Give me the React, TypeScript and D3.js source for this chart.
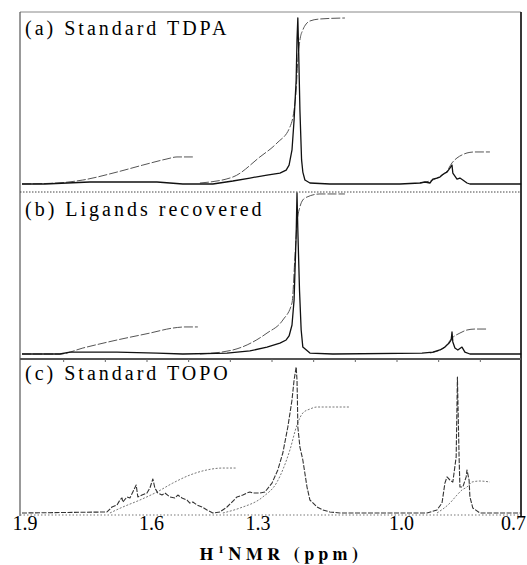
import React from "react";
import * as d3 from "d3";

// ---- data (ppm, relative intensity 0-100) ----
const tickValues = [1.9, 1.6, 1.3, 1.0, 0.7];
const tickLabels = ["1.9", "1.6", "1.3", "1.0", "0.7"];
const minorTicks = [1.8, 1.7, 1.6, 1.5, 1.4, 1.3, 1.2, 1.1, 1.0, 0.9, 0.8];
const panelTitles = ["(a) Standard TDPA", "(b) Ligands recovered", "(c) Standard TOPO"];

const specA: [number, number][] = [
  [1.9, 0], [1.845, 0], [1.792, 0.6], [1.737, 1.2], [1.672, 1.2], [1.617, 1.2], [1.576, 1.2],
  [1.545, 0.6], [1.514, 0], [1.442, 0], [1.394, 1.8], [1.353, 3.6], [1.312, 5.4], [1.281, 6.6],
  [1.266, 8.4], [1.259, 11.4], [1.252, 20.5], [1.247, 38.6], [1.242, 62.7], [1.24, 86.7],
  [1.238, 100], [1.236, 80], [1.233, 44.6], [1.229, 14.5], [1.226, 7.2], [1.221, 2.4],
  [1.209, 0.6], [1.161, 0], [0.993, 0], [0.945, 0.6], [0.933, 1.2], [0.921, 0.6], [0.914, 3],
  [0.904, 3.6], [0.897, 4.2], [0.892, 5.4], [0.885, 6.6], [0.88, 7.2], [0.873, 9.6], [0.868, 11.4],
  [0.866, 6.6], [0.861, 4.8], [0.856, 3.0], [0.849, 3.6], [0.842, 2.4], [0.832, 0.6], [0.825, 0],
  [0.702, 0],
];
const intA: [number, number][][] = [
  [[1.9, 0], [1.816, 0.6], [1.754, 2.4], [1.672, 7.2], [1.61, 11.4], [1.552, 15.1], [1.528, 16.3], [1.49, 16.3]],
  [[1.473, 0.6], [1.394, 4.2], [1.329, 16.3], [1.288, 24.7], [1.257, 34.3], [1.247, 44.6], [1.242, 56.6],
   [1.238, 74.7], [1.233, 86.7], [1.226, 92.8], [1.218, 96.4], [1.209, 98.2], [1.185, 99.4], [1.125, 100]],
  [[0.945, 0.6], [0.904, 3.6], [0.88, 7.8], [0.868, 12.7], [0.856, 15.7], [0.844, 17.5], [0.832, 18.7],
   [0.813, 19.3], [0.777, 19.3]],
];

const specB: [number, number][] = [
  [1.9, 0], [1.809, 0], [1.785, 1.2], [1.672, 1.2], [1.576, 0.6], [1.514, 0], [1.408, 0.6],
  [1.353, 1.9], [1.312, 4.3], [1.281, 6.8], [1.266, 8.7], [1.259, 11.2], [1.252, 18.0],
  [1.247, 33.5], [1.245, 50.3], [1.242, 73.9], [1.24, 100], [1.238, 77.0], [1.234, 39.8],
  [1.23, 14.9], [1.226, 4.3], [1.209, 0.6], [1.154, 0], [0.94, 0.6], [0.914, 1.2], [0.897, 2.5],
  [0.885, 4.3], [0.875, 6.8], [0.87, 8.7], [0.868, 13.7], [0.866, 7.5], [0.861, 3.7], [0.854, 2.5],
  [0.844, 4.3], [0.837, 1.2], [0.825, 0], [0.702, 0],
];
const intB: [number, number][][] = [
  [[1.9, 0], [1.809, 0], [1.754, 3.7], [1.672, 8.7], [1.593, 13.0], [1.538, 16.1], [1.509, 16.8], [1.478, 16.8]],
  [[1.473, 0], [1.394, 2.5], [1.312, 13.0], [1.274, 21.1], [1.252, 31.7], [1.245, 60.2], [1.24, 81.4],
   [1.233, 91.3], [1.226, 95.7], [1.216, 97.5], [1.185, 99.4], [1.125, 99.4]],
  [[0.921, 0.6], [0.885, 4.3], [0.868, 9.9], [0.849, 13.0], [0.832, 14.9], [0.813, 15.5], [0.782, 15.5]],
];

const specC: [number, number][] = [
  [1.9, 0], [1.696, 0.7], [1.684, 4.1], [1.672, 5.5], [1.665, 8.9], [1.66, 10.3], [1.658, 7.5],
  [1.648, 11.0], [1.641, 10.3], [1.634, 14.4], [1.626, 19.2], [1.622, 11.0], [1.612, 12.3],
  [1.6, 13.7], [1.593, 17.1], [1.586, 23.3], [1.581, 17.1], [1.574, 13.7], [1.564, 12.3],
  [1.557, 13.7], [1.545, 11.0], [1.533, 10.3], [1.526, 12.3], [1.516, 10.3], [1.504, 8.9],
  [1.497, 6.8], [1.49, 7.5], [1.48, 5.5], [1.468, 4.1], [1.456, 2.1], [1.442, 0], [1.425, 0.7],
  [1.408, 4.1], [1.396, 7.5], [1.384, 11.0], [1.37, 12.3], [1.36, 13.7], [1.353, 14.4],
  [1.346, 13.7], [1.329, 13.7], [1.317, 14.4], [1.3, 20.5], [1.286, 29.5], [1.274, 41.1],
  [1.262, 58.9], [1.252, 77.4], [1.247, 91.1], [1.242, 100], [1.24, 91.1], [1.239, 77.4],
  [1.238, 58.9], [1.233, 45.2], [1.226, 36.3], [1.216, 17.8], [1.209, 8.9], [1.192, 4.1],
  [1.178, 2.1], [1.161, 0.7], [1.137, 0], [0.928, 0], [0.904, 2.1], [0.892, 6.8], [0.885, 20.5],
  [0.88, 24.7], [0.873, 22.6], [0.866, 21.2], [0.858, 38.4], [0.855, 93.2], [0.851, 38.4],
  [0.849, 17.8], [0.842, 17.8], [0.834, 24.7], [0.832, 29.5], [0.827, 22.6], [0.825, 11.0],
  [0.818, 3.4], [0.801, 0], [0.702, 0],
];
const intC: [number, number][][] = [
  [[1.689, 0], [1.658, 4.1], [1.617, 8.9], [1.576, 14.4], [1.538, 20.5], [1.497, 26.0], [1.456, 29.5],
   [1.418, 30.8], [1.384, 30.8]],
  [[1.418, 0], [1.377, 3.4], [1.322, 11.0], [1.288, 21.2], [1.257, 43.2], [1.24, 60.3], [1.226, 68.5],
   [1.209, 71.2], [1.192, 72.6], [1.113, 72.6]],
  [[0.904, 0], [0.873, 6.8], [0.856, 12.3], [0.844, 15.8], [0.832, 17.8], [0.82, 21.2], [0.801, 21.9],
   [0.777, 21.2]],
];

export default function App() {
  const W = 527, H = 565;
  const x = d3.scaleLinear().domain([1.9, 0.7]).range([22, 522]);
  const panels = [
    { title: panelTitles[0], spec: specA, ints: intA, y: d3.scaleLinear().domain([0, 100]).range([184, 18]), ty: 35,
      specStyle: { stroke: "#111", width: 1.3, dash: "none" }, intStyle: { stroke: "#555", width: 1, dash: "9,2" } },
    { title: panelTitles[1], spec: specB, ints: intB, y: d3.scaleLinear().domain([0, 100]).range([354, 193]), ty: 216,
      specStyle: { stroke: "#111", width: 1.3, dash: "none" }, intStyle: { stroke: "#555", width: 1, dash: "9,2" } },
    { title: panelTitles[2], spec: specC, ints: intC, y: d3.scaleLinear().domain([0, 100]).range([513, 367]), ty: 380,
      specStyle: { stroke: "#333", width: 1.1, dash: "5,1.5" }, intStyle: { stroke: "#777", width: 1, dash: "2,1.6" } },
  ];
  const labelNudge = [3, 4.5, -14, 4.5, -8.5];

  return (
    <svg width={W} height={H} style={{ position: "absolute", left: 0, top: 0 }}>
      <rect x={0} y={0} width={W} height={H} fill="#fff" />
      {/* frame */}
      <line x1={20} x2={521} y1={12} y2={12} stroke="#888" strokeWidth={1} />
      <line x1={20} x2={20} y1={12} y2={516} stroke="#555" strokeWidth={1.2} />
      <line x1={521} x2={521} y1={12} y2={517} stroke="#222" strokeWidth={1.8} />
      <line x1={20} x2={521} y1={192} y2={192} stroke="#444" strokeWidth={1} strokeDasharray="1.5,1.5" />
      <line x1={20} x2={521} y1={359} y2={359} stroke="#555" strokeWidth={2.2} />
      {minorTicks.map((t) => (
        <line key={"mt" + t} x1={x(t)} x2={x(t)} y1={359} y2={362} stroke="#666" strokeWidth={1} />
      ))}
      <line x1={20} x2={521} y1={515} y2={515} stroke="#777" strokeWidth={1} strokeDasharray="1.5,2" />

      {panels.map((p, i) => {
        const line = d3.line<[number, number]>().x((d) => x(d[0])).y((d) => p.y(d[1]));
        const smooth = d3.line<[number, number]>().x((d) => x(d[0])).y((d) => p.y(d[1])).curve(d3.curveMonotoneX);
        return (
          <g key={i}>
            {p.ints.map((seg, j) => (
              <path key={j} d={smooth(seg.slice().sort((a, b) => b[0] - a[0])) || ""} fill="none"
                stroke={p.intStyle.stroke} strokeWidth={p.intStyle.width} strokeDasharray={p.intStyle.dash} />
            ))}
            <path d={line(p.spec) || ""} fill="none" stroke={p.specStyle.stroke} strokeWidth={p.specStyle.width}
              strokeDasharray={p.specStyle.dash} strokeLinejoin="round" />
          </g>
        );
      })}

      {panels.map((p, i) => (
        <text key={"tt" + i} x={25} y={p.ty} fontSize={20} letterSpacing="3px" style={{ fontFamily: '"Times New Roman"' }}>
          {p.title}
        </text>
      ))}

      {tickValues.map((t, i) => (
        <text key={"tl" + i} x={x(t) + labelNudge[i]} y={530} textAnchor="middle" fontSize={20} style={{ fontFamily: '"Tinos"' }}>
          {tickLabels[i]}
        </text>
      ))}
      <text x={281} y={560} textAnchor="middle" fontSize={18} fontWeight="bold" letterSpacing="4.5px" style={{ fontFamily: '"FreeSerif"' }}>
        H<tspan fontSize={11} dy={-7}>1</tspan><tspan dy={7}>NMR (ppm)</tspan>
      </text>
    </svg>
  );
}
